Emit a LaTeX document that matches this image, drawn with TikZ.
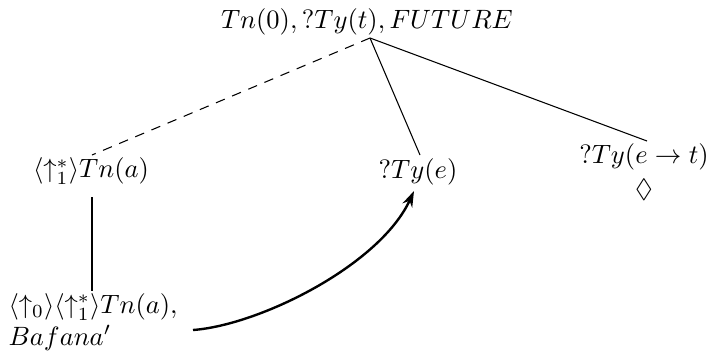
\documentclass[tikz,border=0pt]{standalone}
\usepackage{amssymb}
\usetikzlibrary{arrows.meta}
\begin{document}
\begin{tikzpicture}[x=0.377pt,y=-0.377pt,
  lbl/.style={inner sep=0pt,font=\normalsize},
  edge/.style={line width=0.4pt},
  dashedge/.style={line width=0.4pt,dash pattern=on 3.6pt off 3pt},
  link/.style={line width=0.9pt,-{Stealth[length=6pt,width=4pt]}}]
\useasboundingbox (0,0) rectangle (709,354);
\node[lbl] (n0) at (367,22) {$Tn(0), ?Ty(t), FUTURE$};
\node[lbl] (n1) at (91,171) {$\langle\uparrow_1^*\rangle Tn(a)$};
\node[lbl] (n2) at (418,172) {$?Ty(e)$};
\node[lbl] (n3) at (644,157) {$?Ty(e\rightarrow t)$};
\node[lbl] (dm) at (644,190) {$\Diamond$};
\node[lbl,align=left,anchor=west] (n4) at (8,322) {$\langle\uparrow_0\rangle\langle\uparrow_1^*\rangle Tn(a),$\\$Bafana'$};
\coordinate (apex) at (370,38);
\coordinate (e1) at (92,155);
\coordinate (e2) at (420,155);
\coordinate (e3) at (647,141);
\coordinate (v1) at (92,197);
\coordinate (v2) at (92,291);
\coordinate (a1) at (193,330);
\coordinate (a2) at (414,191);
\draw[dashedge] (apex) -- (e1);
\draw[edge] (apex) -- (e2);
\draw[edge] (apex) -- (e3);
\draw[edge] (v1) -- (v2);
\draw[link] (a1) .. controls (260,325) and (380,265) .. (a2);
\end{tikzpicture}
\end{document}
